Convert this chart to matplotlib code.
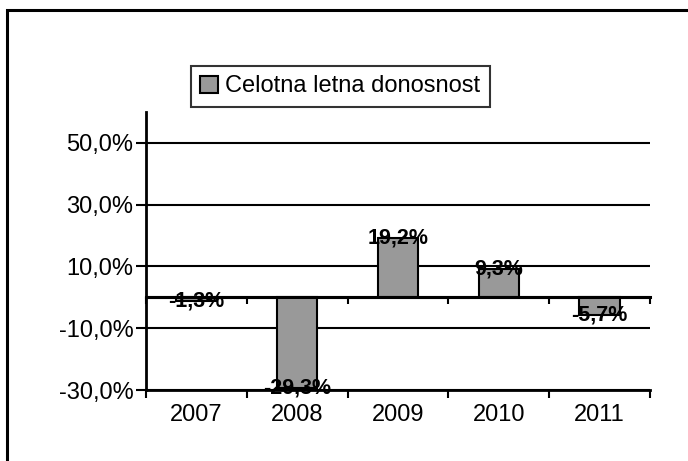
import matplotlib
matplotlib.use("Agg")
import matplotlib.pyplot as plt
from matplotlib.patches import Rectangle
import numpy as np

plt.rcParams['font.family'] = ['Liberation Sans', 'DejaVu Sans']

years = ['2007', '2008', '2009', '2010', '2011']
values = [-1.3, -29.3, 19.2, 9.3, -5.7]
series_name = 'Celotna letna donosnost'
yticks = [-30, -10, 10, 30, 50]

def fmt(v):
    return f"{v:.1f}".replace('.', ',') + '%'

fig = plt.figure(figsize=(6.88, 4.61), dpi=100)
ax = fig.add_axes([146/688, 1-390/461, (650-146)/688, (390-112)/461])

x = np.arange(len(years))
ax.bar(x, values, width=0.4, color='#999999', edgecolor='black', linewidth=1.5, zorder=3)

ax.set_xlim(-0.5, len(years) - 0.5)
ax.set_ylim(-30, 60)

for yv in yticks:
    ax.axhline(yv, color='black', linewidth=1.5, zorder=1)
ax.axhline(0, color='black', linewidth=2.2, zorder=4)

ax.set_yticks(yticks)
ax.set_yticklabels([fmt(v) for v in yticks], fontsize=17)
ax.tick_params(axis='y', direction='out', length=7, width=1.5, pad=2)

ax.set_xticks(x)
ax.set_xticklabels(years, fontsize=17)
ax.set_xticks(np.arange(-0.5, len(years)), minor=True)
ax.tick_params(axis='x', which='major', length=0, pad=10)
ax.tick_params(axis='x', which='minor', direction='out', length=6, width=1.5)

for s in ['top', 'right']:
    ax.spines[s].set_visible(False)
ax.spines['left'].set_linewidth(2)
ax.spines['bottom'].set_linewidth(2)

# ticks along the zero line
sec = ax.secondary_xaxis(0, transform=ax.transData)
sec.set_xticks(np.arange(-0.5, len(years)))
sec.set_xticklabels([])
sec.tick_params(direction='out', length=5, width=1.5)
sec.spines['bottom'].set_linewidth(2.2)

for xi, v in zip(x, values):
    ax.text(xi, v, fmt(v), ha='center', va='center', fontsize=15.5,
            fontweight='bold', zorder=5)

handle = Rectangle((0, 0), 1, 1, facecolor='#999999', edgecolor='black', linewidth=1.5)
leg = fig.legend([handle], [series_name], loc='upper left',
                 bbox_to_anchor=(191/688, 1-66/461), fontsize=17,
                 frameon=True, fancybox=False, edgecolor='black',
                 handlelength=0.75, handleheight=0.75, handletextpad=0.3,
                 borderpad=0.4, borderaxespad=0)
leg.get_frame().set_linewidth(1.5)

fig.patches.append(Rectangle((7/688, -0.05), 1.1, 1-10/461+0.05,
                             transform=fig.transFigure, fill=False,
                             edgecolor='black', linewidth=2.2))

fig.savefig('out.png', dpi=100)
